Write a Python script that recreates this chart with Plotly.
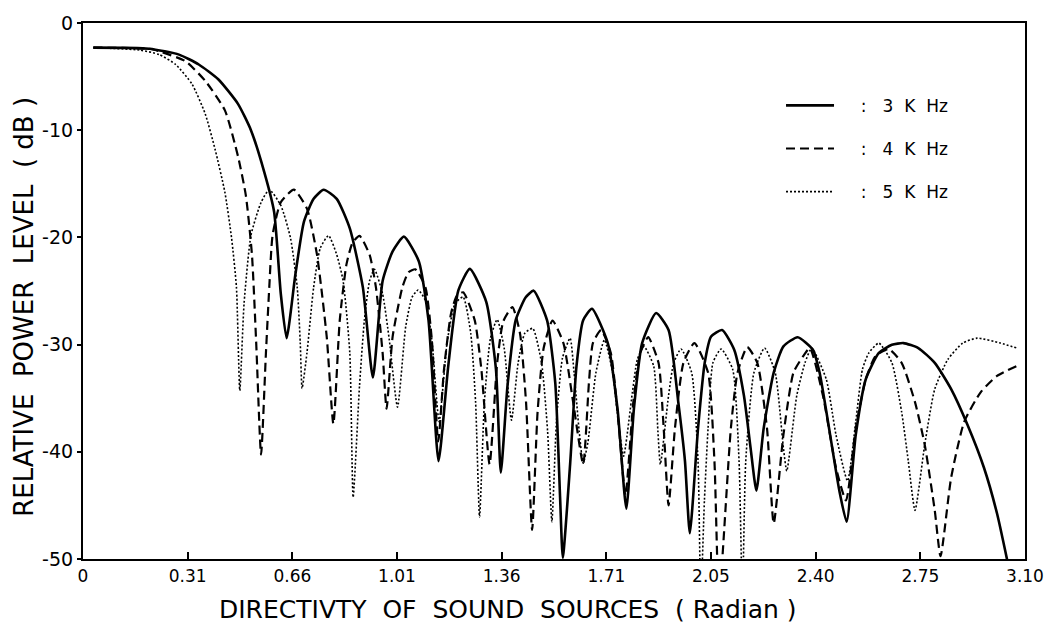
import plotly.graph_objects as go

# ---- data ----
tick_labels = ["0", "0.31", "0.66", "1.01", "1.36", "1.71", "2.05", "2.40", "2.75", "3.10"]
y_ticks = [0, -10, -20, -30, -40, -50]
y_tick_labels = ["0", "-10", "-20", "-30", "-40", "-50"]

x3 = [0.034,0.218,0.316,0.381,0.445,0.510,0.552,0.597,0.629,0.651,0.670,0.699,0.727,0.759,0.792,0.835,0.878,0.921,0.954,0.986,1.019,1.056,1.105,1.137,1.170,1.202,1.235,1.273,1.327,1.359,1.375,1.397,1.424,1.457,1.483,1.527,1.554,1.570,1.579,1.603,1.624,1.646,1.675,1.727,1.759,1.788,1.813,1.840,1.886,1.927,1.959,1.981,1.997,2.024,2.046,2.067,2.103,2.143,2.175,2.197,2.216,2.240,2.273,2.305,2.352,2.402,2.424,2.457,2.489,2.513,2.543,2.576,2.619,2.662,2.700,2.749,2.803,2.857,2.911,2.965,3.008,3.041]
y3 = [-2.3,-2.4,-2.95,-3.87,-5.25,-7.54,-9.95,-13.96,-17.63,-25.28,-29.4,-23.44,-18.55,-16.4,-15.55,-16.4,-19.16,-24.66,-33.07,-24.06,-21.3,-19.93,-22.22,-27.72,-40.87,-32.0,-24.97,-22.94,-26.01,-32.31,-41.94,-33.83,-27.72,-25.58,-24.97,-27.72,-33.53,-44.24,-49.89,-41.17,-32.0,-27.72,-26.65,-29.86,-35.98,-45.3,-35.98,-29.86,-27.06,-28.64,-35.37,-40.87,-47.6,-37.82,-31.7,-29.25,-28.64,-30.48,-34.75,-39.65,-43.62,-37.82,-32.61,-30.17,-29.31,-30.48,-32.61,-38.12,-43.62,-46.53,-38.42,-33.23,-30.78,-30.02,-29.86,-30.32,-31.7,-34.15,-37.5,-41.49,-45.76,-50.05]

x4 = [0.034,0.218,0.251,0.337,0.402,0.467,0.510,0.536,0.556,0.570,0.586,0.602,0.613,0.624,0.651,0.694,0.737,0.770,0.802,0.824,0.845,0.867,0.887,0.910,0.943,0.964,0.986,0.999,1.019,1.051,1.071,1.094,1.127,1.148,1.169,1.188,1.211,1.230,1.251,1.289,1.311,1.338,1.363,1.383,1.413,1.438,1.458,1.478,1.496,1.516,1.545,1.581,1.613,1.646,1.665,1.678,1.705,1.737,1.762,1.785,1.811,1.834,1.860,1.894,1.911,1.927,1.948,1.976,2.012,2.057,2.078,2.093,2.132,2.154,2.186,2.219,2.251,2.273,2.305,2.338,2.370,2.392,2.435,2.478,2.511,2.543,2.576,2.608,2.651,2.694,2.738,2.770,2.803,2.822,2.857,2.900,2.954,3.008,3.073]
y4 = [-2.3,-2.4,-2.64,-3.56,-5.39,-8.15,-12.43,-16.1,-21.61,-29.86,-40.26,-30.78,-24.66,-19.77,-16.72,-15.55,-17.32,-21.61,-29.25,-37.41,-27.72,-22.52,-20.5,-19.86,-21.61,-24.66,-30.78,-35.98,-29.25,-24.66,-23.26,-22.98,-24.66,-29.56,-39.04,-32.31,-27.11,-25.46,-25.12,-27.72,-32.31,-41.17,-31.7,-27.84,-26.5,-28.94,-35.37,-47.29,-36.28,-30.32,-27.75,-29.86,-35.37,-41.15,-33.53,-29.86,-28.64,-30.78,-37.2,-44.08,-35.37,-30.78,-29.31,-31.7,-37.82,-45.0,-37.82,-31.7,-29.86,-32.61,-40.87,-53.7,-37.82,-32.61,-30.23,-31.7,-37.82,-46.68,-38.42,-32.61,-31.08,-30.32,-34.75,-41.49,-44.54,-37.82,-33.23,-31.08,-30.41,-31.7,-35.37,-39.34,-45.46,-49.74,-42.4,-37.2,-34.45,-32.92,-32.0]

x5 = [0.034,0.186,0.251,0.305,0.359,0.402,0.435,0.467,0.489,0.505,0.516,0.530,0.553,0.586,0.613,0.651,0.683,0.705,0.715,0.721,0.737,0.759,0.781,0.808,0.835,0.856,0.878,0.889,0.910,0.926,0.943,0.959,0.986,1.008,1.035,1.062,1.083,1.103,1.127,1.148,1.172,1.198,1.224,1.251,1.276,1.292,1.305,1.321,1.341,1.363,1.386,1.410,1.432,1.454,1.480,1.509,1.529,1.543,1.558,1.578,1.603,1.616,1.633,1.646,1.662,1.688,1.716,1.743,1.762,1.779,1.808,1.824,1.846,1.878,1.892,1.900,1.927,1.944,1.968,2.003,2.024,2.033,2.045,2.057,2.073,2.100,2.138,2.159,2.170,2.181,2.208,2.243,2.278,2.305,2.316,2.349,2.376,2.398,2.446,2.478,2.516,2.543,2.565,2.586,2.619,2.662,2.694,2.716,2.738,2.770,2.803,2.846,2.895,2.943,3.019,3.073]
y5 = [-2.3,-2.52,-2.95,-3.87,-5.71,-8.46,-11.82,-15.8,-20.07,-24.66,-34.29,-26.19,-19.77,-16.74,-15.55,-17.02,-20.07,-24.66,-29.86,-34.08,-30.78,-24.66,-20.99,-19.83,-21.61,-24.06,-30.78,-44.24,-33.83,-27.72,-24.06,-22.98,-25.28,-29.56,-35.83,-28.33,-25.58,-24.91,-25.89,-29.56,-37.2,-29.86,-26.19,-25.55,-28.94,-35.37,-46.07,-35.37,-29.4,-27.66,-30.32,-37.05,-31.7,-28.94,-28.49,-31.7,-38.12,-46.53,-37.2,-31.24,-29.4,-32.61,-38.12,-41.06,-39.04,-32.61,-29.56,-32.61,-37.2,-40.41,-34.45,-31.42,-30.17,-32.0,-38.12,-41.17,-34.75,-31.7,-30.41,-32.61,-40.87,-53.7,-44.54,-37.82,-31.7,-30.41,-32.31,-40.87,-53.7,-40.87,-32.61,-30.32,-32.61,-39.65,-41.79,-34.75,-31.7,-30.32,-33.23,-38.42,-42.71,-37.2,-32.31,-30.78,-29.86,-31.7,-36.28,-40.87,-45.46,-39.34,-34.15,-31.39,-29.86,-29.4,-29.86,-30.32]

series_names = ["    :   3  K  Hz", "    :   4  K  Hz", "    :   5  K  Hz"]

# ---- figure ----
X_MAX = 3.10
tick_positions = [X_MAX * i / (len(tick_labels) - 1) for i in range(len(tick_labels))]
FONT = "DejaVu Sans"

fig = go.Figure()
styles = [
    dict(color="black", width=2.6, dash="solid"),
    dict(color="black", width=2.2, dash="9px,5px"),
    dict(color="black", width=1.6, dash="2px,2px"),
]
for i, (xs, ys) in enumerate([(x3, y3), (x4, y4), (x5, y5)]):
    fig.add_trace(go.Scatter(
        x=xs, y=ys, mode="lines", name=series_names[i],
        legendgroup=f"g{i}",
        line=dict(shape="spline", smoothing=0.55, **styles[i]),
    ))

fig.update_layout(
    width=1056, height=627,
    margin=dict(l=83, r=18, t=15, b=68),
    paper_bgcolor="white", plot_bgcolor="white",
    font=dict(family=FONT, color="black", size=16),
    showlegend=True,
    legend=dict(
        x=0.741, y=0.879, xanchor="left", yanchor="top",
        bgcolor="rgba(0,0,0,0)", borderwidth=0,
        font=dict(family=FONT, size=17, color="black"),
        tracegroupgap=18, itemwidth=48,
    ),
    xaxis=dict(
        range=[0, X_MAX], tickmode="array",
        tickvals=tick_positions, ticktext=tick_labels,
        ticks="inside", ticklen=7, tickwidth=1.5, tickcolor="black",
        showline=True, linecolor="black", linewidth=2.2, mirror=True,
        showgrid=False, zeroline=False, ticklabeloverflow="allow",
        tickfont=dict(family=FONT, size=17, color="black"),
    ),
    yaxis=dict(
        range=[-50, 0], tickmode="array",
        tickvals=y_ticks, ticktext=y_tick_labels,
        ticks="outside", ticklen=4, tickwidth=1.5, tickcolor="black",
        showline=True, linecolor="black", linewidth=2.2, mirror=True,
        showgrid=False, zeroline=False, ticklabeloverflow="allow",
        tickfont=dict(family=FONT, size=19, color="black"),
    ),
    annotations=[
        dict(text="DIRECTIVTY  OF  SOUND  SOURCES  ( Radian )",
             xref="paper", yref="paper", x=0.451, y=-0.094,
             xanchor="center", yanchor="middle", showarrow=False,
             font=dict(family=FONT, size=25, color="black")),
        dict(text="RELATIVE  POWER  LEVEL  ( dB )",
             xref="paper", yref="paper", x=-0.063, y=0.47,
             xanchor="center", yanchor="middle", showarrow=False, textangle=-90,
             font=dict(family=FONT, size=26, color="black")),
    ],
)

fig.write_html("out.html")
